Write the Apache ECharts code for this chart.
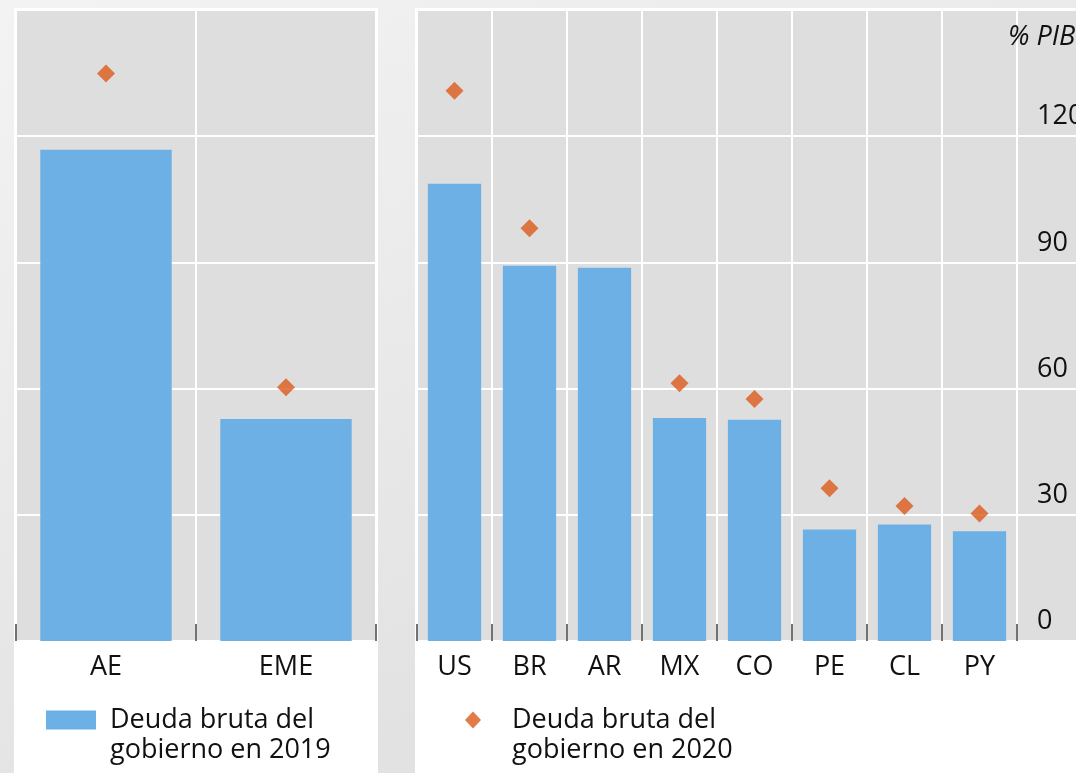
<!DOCTYPE html>
<html lang="es">
<head>
    <meta charset="UTF-8">
    <title>Deuda bruta del gobierno</title>
    <script src="https://cdn.jsdelivr.net/npm/echarts@6/dist/echarts.min.js"></script>
    <style>
        html, body { margin: 0; padding: 0; }
        #chart { width: 1076px; height: 773px; }
    </style>
</head>
<body>
<div id="chart"></div>
<script type="text/javascript">
    // datos (% del PIB)
    const groups_cat = ["AE", "EME"];
    const groups_2019 = [116.8, 52.8];
    const groups_2020 = [134.9, 60.3];

    const countries_cat = ["US", "BR", "AR", "MX", "CO", "PE", "CL", "PY"];
    const countries_2019 = [108.7, 89.2, 88.7, 53.0, 52.6, 26.5, 27.7, 26.1];
    const countries_2020 = [130.8, 98.1, null, 61.3, 57.5, 36.3, 32.1, 30.3];

    const y_ticks = [0, 30, 60, 90, 120, 150];

    const name_2019 = "Deuda bruta del\ngobierno en 2019";
    const name_2020 = "Deuda bruta del\ngobierno en 2020";

    const font = "'Open Sans', 'Noto Sans', sans-serif";
    const font_size = 27;
    const bar_color = "#6cb0e6";
    const dot_color = "#dc5a1c";
    const plot_bg = "#dedede";

    const chart = echarts.init(document.getElementById("chart"));

    function value_axis(grid_idx, opts) {
        return Object.assign({
            type: "value",
            gridIndex: grid_idx,
            min: y_ticks[0],
            max: y_ticks[y_ticks.length - 1],
            interval: y_ticks[1] - y_ticks[0],
            axisLine: {show: false},
            axisTick: {show: false},
            axisLabel: {show: false},
            splitLine: {show: false}
        }, opts || {});
    }

    function cat_axis(grid_idx, cats) {
        return {
            type: "category",
            gridIndex: grid_idx,
            data: cats,
            axisLine: {show: false},
            axisTick: {show: true, inside: true, length: 17, lineStyle: {color: "#444", width: 1.5}},
            axisLabel: {color: "#111", fontSize: font_size, fontFamily: font, margin: 13},
            splitLine: {show: true, lineStyle: {color: "#ffffff", width: 2}}
        };
    }

    const h_split = {show: true, lineStyle: {color: "#ffffff", width: 2}};

    const legend_text = {
        fontSize: font_size, lineHeight: 30, color: "#111", fontFamily: font
    };

    const option = {
        backgroundColor: new echarts.graphic.LinearGradient(0, 0, 0.3, 1, [
            {offset: 0, color: "#f3f3f3"},
            {offset: 1, color: "#e2e2e2"}
        ]),
        animation: false,
        graphic: [
            // paneles blancos
            {type: "rect", left: 14, top: 8, z: -10, shape: {width: 364, height: 765}, style: {fill: "#ffffff"}},
            {type: "rect", left: 415, top: 8, z: -10, shape: {width: 661, height: 765}, style: {fill: "#ffffff"}}
        ],
        title: {
            text: "% PIB",
            left: 1008,
            top: 24,
            padding: 0,
            textStyle: {fontSize: font_size, fontStyle: "italic", fontWeight: "normal", color: "#111", fontFamily: font}
        },
        grid: [
            {left: 16, top: 10, width: 360, height: 631, show: true, backgroundColor: plot_bg, borderWidth: 0, outerBoundsMode: "none"},
            {left: 417, top: 10, width: 600, height: 631, show: false, outerBoundsMode: "none"},
            {left: 418, top: 10, right: 0, height: 631, show: true, backgroundColor: plot_bg, borderWidth: 0, outerBoundsMode: "none"}
        ],
        xAxis: [
            cat_axis(0, groups_cat),
            cat_axis(1, countries_cat),
            {type: "category", gridIndex: 2, data: [""], show: false}
        ],
        yAxis: [
            value_axis(0, {splitLine: h_split}),
            value_axis(1),
            value_axis(2, {
                position: "right",
                splitLine: h_split,
                axisLabel: {
                    show: true, inside: false, margin: -39, align: "left", verticalAlign: "bottom",
                    padding: [0, 0, 6, 0], showMaxLabel: false,
                    color: "#111", fontSize: font_size, fontFamily: font
                }
            })
        ],
        legend: [
            {
                data: [name_2019],
                left: 46, top: 675, padding: 0,
                icon: "rect", itemWidth: 50, itemHeight: 19,
                selectedMode: false,
                // linea vacia delante: la primera linea queda a la altura del icono
                formatter: (name) => "\n" + name,
                textStyle: Object.assign({padding: [0, 0, 0, 9]}, legend_text)
            },
            {
                data: [name_2020],
                left: 465, top: 675, padding: 0,
                icon: "diamond", itemWidth: 16, itemHeight: 17,
                selectedMode: false,
                formatter: (name) => "\n" + name,
                textStyle: Object.assign({padding: [0, 0, 0, 26]}, legend_text)
            }
        ],
        series: [
            {
                name: name_2019, type: "bar", xAxisIndex: 0, yAxisIndex: 0,
                data: groups_2019, barWidth: "73%", itemStyle: {color: bar_color}
            },
            {
                name: name_2020, type: "scatter", xAxisIndex: 0, yAxisIndex: 0,
                data: groups_2020, symbol: "diamond", symbolSize: [18, 18], itemStyle: {color: dot_color}
            },
            {
                name: name_2019, type: "bar", xAxisIndex: 1, yAxisIndex: 1,
                data: countries_2019, barWidth: "71%", itemStyle: {color: bar_color}
            },
            {
                name: name_2020, type: "scatter", xAxisIndex: 1, yAxisIndex: 1,
                data: countries_2020, symbol: "diamond", symbolSize: [18, 18], itemStyle: {color: dot_color}
            }
        ]
    };

    chart.setOption(option);
</script>
</body>
</html>
